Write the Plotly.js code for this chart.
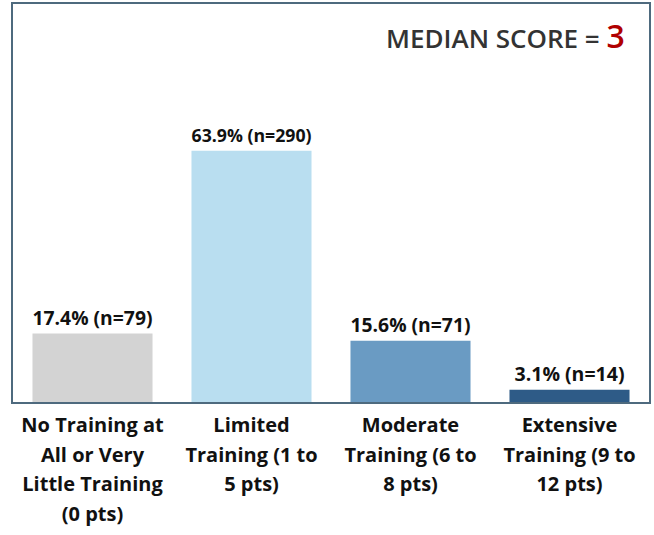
<!DOCTYPE html>
<html><head><meta charset="utf-8">
<script src="https://cdn.plot.ly/plotly-3.0.1.min.js"></script>
<style>html,body{margin:0;padding:0;background:#fff}</style>
</head><body>
<div id="chart" style="width:654px;height:535px"></div>
<script>
const categories = ["No Training at<br>All or Very<br>Little Training<br>(0 pts)", "Limited<br>Training (1 to<br>5 pts)", "Moderate<br>Training (6 to<br>8 pts)", "Extensive<br>Training (9 to<br>12 pts)"];
const percents = [17.4, 63.9, 15.6, 3.1];
const counts = [79, 290, 71, 14];
const colors = ["#d3d3d3", "#b9def0", "#6a9bc3", "#2e5b87"];
const medianScore = 3;

const trace = {
  type: "bar",
  x: [0,1,2,3],
  y: percents,
  marker: {color: colors},
  text: percents.map((p,i)=> p.toFixed(1) + "% (n=" + counts[i] + ")"),
  textposition: "outside",
  cliponaxis: false,
  textfont: {family: "Open Sans", size: 19.5, color: "#111"},
  texttemplate: "<b>%{text}</b>",
  hoverinfo: "none"
};
const layout = {
  width: 654, height: 535,
  margin: {l: 13, r: 5, t: 4, b: 133},
  paper_bgcolor: "#fff", plot_bgcolor: "#fff",
  bargap: 0.245,
  showlegend: false,
  xaxis: {
    tickvals: [0,1,2,3],
    ticktext: categories.map(c=>"<b><span style='font-size:20px'>"+c+"</span></b>"),
    tickfont: {family: "Open Sans", size: 23, color: "#111"},
    showline: true, mirror: true, linecolor: "#4e6a7e", linewidth: 2,
    ticks: "", range: [-0.5, 3.5], fixedrange: true
  },
  yaxis: {
    range: [0, 101.2], showticklabels: false, showgrid: false, zeroline: false,
    showline: true, mirror: true, linecolor: "#4e6a7e", linewidth: 2, ticks: ""
  },
  annotations: [{
    xref: "paper", yref: "paper", x: 0.965, y: 0.92, xanchor: "right", yanchor: "middle",
    showarrow: false,
    text: "MEDIAN SCORE = <span style='color:#b00000;font-size:32px'>" + medianScore + "</span>",
    font: {family: "Open Sans", size: 26, color: "#333", weight: 600}
  }]
};
Plotly.newPlot("chart", [trace], layout, {displayModeBar: false, staticPlot: true});
</script>
</body></html>
